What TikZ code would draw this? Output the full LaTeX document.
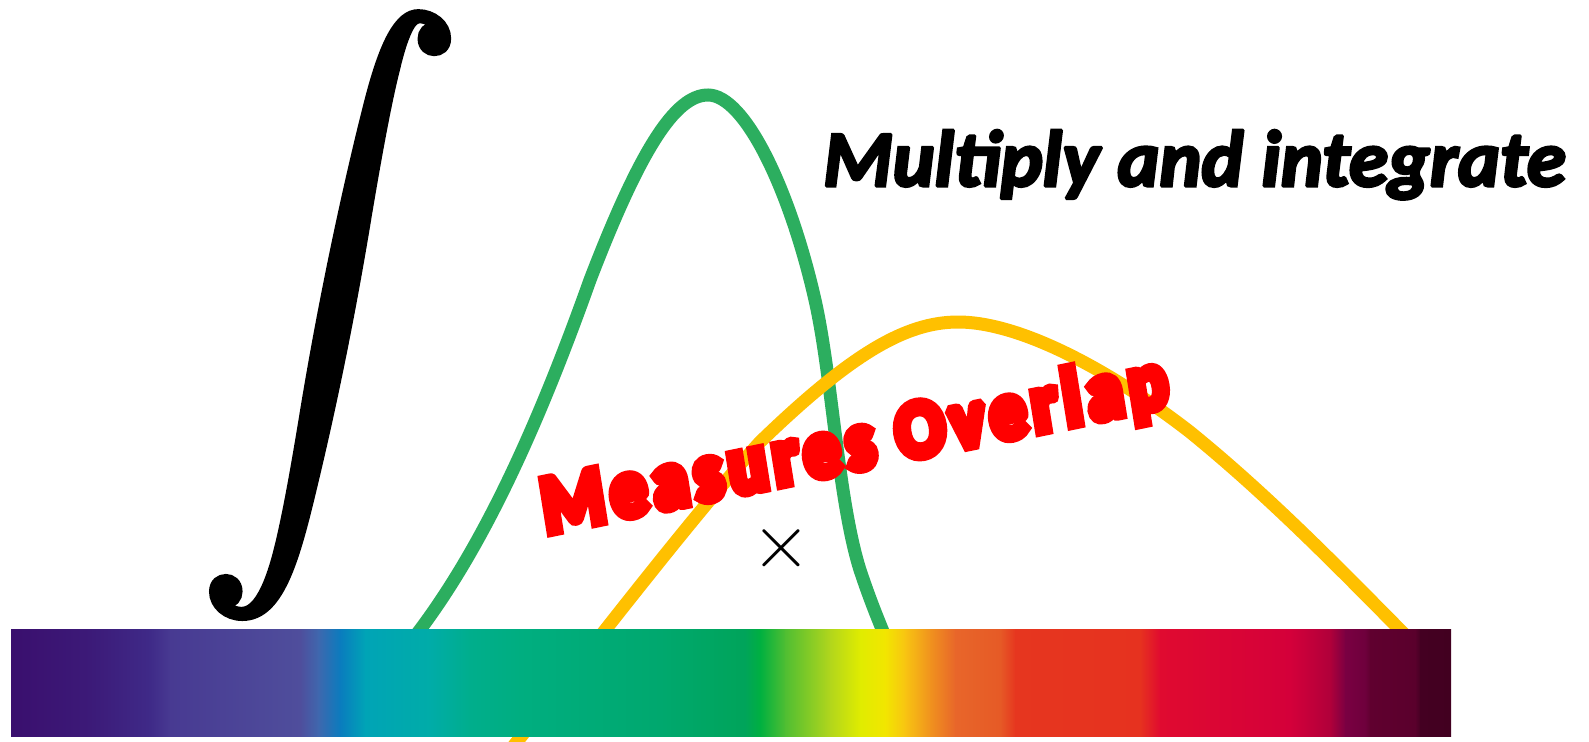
\documentclass[tikz,border=0pt]{standalone}
\usepackage{fontspec}
\setmainfont{Carlito}
\usepackage{graphicx}
\newcommand\heavyink[2]{\special{pdf:code 2 Tr 0 j 1.5 M #1 w}#2\special{pdf:code 0 Tr}}
\definecolor{gcurve}{HTML}{2CAE5F}
\definecolor{ycurve}{HTML}{FFC000}
\definecolor{s01}{HTML}{3A0F6E}
\definecolor{s02}{HTML}{3C1A78}
\definecolor{s03}{HTML}{3F2A88}
\definecolor{s04}{HTML}{483A92}
\definecolor{s05}{HTML}{4F4E9C}
\definecolor{s06}{HTML}{3F67AE}
\definecolor{s07}{HTML}{0A7CBE}
\definecolor{s08}{HTML}{00A4B6}
\definecolor{s09}{HTML}{00ACA8}
\definecolor{s10}{HTML}{00AE8C}
\definecolor{s11}{HTML}{00AE80}
\definecolor{s12}{HTML}{00A86E}
\definecolor{s13}{HTML}{00A45A}
\definecolor{s14}{HTML}{00B040}
\definecolor{s15}{HTML}{50BE32}
\definecolor{s16}{HTML}{B2D61C}
\definecolor{s17}{HTML}{E0EC00}
\definecolor{s18}{HTML}{F2E600}
\definecolor{s19}{HTML}{F8C412}
\definecolor{s20}{HTML}{F0921E}
\definecolor{s21}{HTML}{E8662A}
\definecolor{s22}{HTML}{E65A26}
\definecolor{s23}{HTML}{E6361F}
\definecolor{s24}{HTML}{E6321F}
\definecolor{s25}{HTML}{E00A30}
\definecolor{s26}{HTML}{D4003A}
\definecolor{s27}{HTML}{B0003A}
\definecolor{s28}{HTML}{7A0042}
\definecolor{s29}{HTML}{6E003C}
\definecolor{s30}{HTML}{60002F}
\definecolor{s31}{HTML}{5A002C}
\definecolor{s32}{HTML}{440022}
\definecolor{s33}{HTML}{420020}
\begin{document}
\begin{tikzpicture}[x=1pt,y=-1pt,
  curve/.style={line width=13pt},
  bigtitle/.style={inner sep=0pt, font=\fontsize{79.5}{90}\selectfont\bfseries\itshape},
  overlap/.style={inner sep=0pt, text=red, font=\fontsize{72}{80}\selectfont\bfseries\addfontfeature{LetterSpace=9}}]
\useasboundingbox (0,0) rectangle (1589,741);
\fill[white] (0,0) rectangle (1589,741);
% curves
\draw[curve, gcurve] (400,655) .. controls (480,560) and (540,420) .. (590,280)
  .. controls (640,150) and (675,95) .. (708,95)
  .. controls (745,95) and (790,190) .. (815,300)
  .. controls (832,375) and (838,500) .. (860,570)
  .. controls (870,600) and (880,625) .. (893,655);
\draw[curve, ycurve] (490,775) .. controls (560,690) and (680,530) .. (760,442)
  .. controls (850,355) and (905,322) .. (958,322)
  .. controls (1020,322) and (1110,370) .. (1190,432)
  .. controls (1280,505) and (1360,590) .. (1430,660);
% spectrum bar
\foreach \xa/\xb/\ca/\cb in {
  11/90/s01/s02, 90/150/s02/s03, 150/170/s03/s04, 170/300/s04/s05,
  300/318/s05/s06, 318/340/s06/s07, 340/365/s07/s08, 365/430/s08/s09,
  430/470/s09/s10, 470/520/s10/s11, 520/660/s11/s12, 660/745/s12/s13,
  745/760/s13/s14, 760/785/s14/s15, 785/830/s15/s16, 830/860/s16/s17,
  860/885/s17/s18, 885/905/s18/s19, 905/930/s19/s20, 930/955/s20/s21,
  955/1000/s21/s22, 1000/1015/s22/s23, 1015/1140/s23/s24, 1140/1160/s24/s25,
  1160/1290/s25/s26, 1290/1330/s26/s27, 1330/1345/s27/s28, 1345/1365/s28/s29,
  1365/1370/s29/s30, 1370/1415/s30/s31, 1415/1420/s31/s32, 1420/1451/s32/s33}
  \shade[left color=\ca, right color=\cb] (\xa,629) rectangle ({min(\xb+0.8,1451)},736);
% integral
\node[anchor=north west, inner sep=0pt] (intg) at (198,13)
  {\scalebox{26.4}[27.17]{\heavyink{0.3}{$\displaystyle\int$}}};
% texts
\node[bigtitle, anchor=base west] (title) at (823,186) {\heavyink{3}{Multiply and integrate}};
\node[overlap, anchor=base west, yscale=1.13, rotate=10.3] (ovl) at (546,533) {\heavyink{9}{Measures Overlap}};
\node[inner sep=0pt] (times) at (781.5,548.5) {\scalebox{7.7}{$\times$}};
\end{tikzpicture}
\end{document}
